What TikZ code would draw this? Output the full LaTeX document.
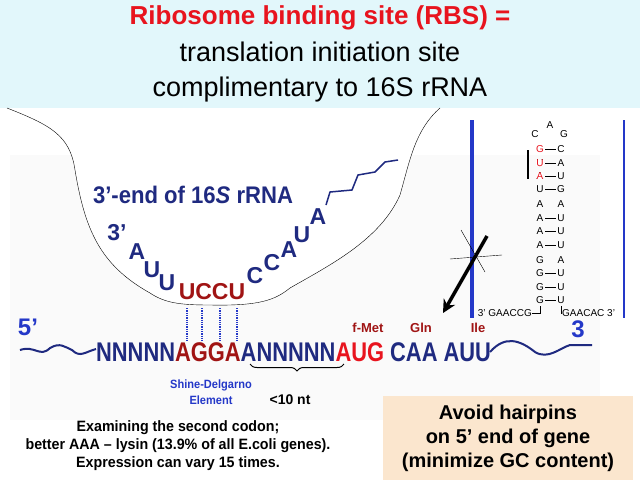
\documentclass[tikz,border=0pt]{standalone}
\usepackage{fontspec}
\setmainfont{Liberation Sans}
\usetikzlibrary{arrows.meta,decorations.pathreplacing}
\definecolor{navy}{HTML}{1F2A80}
\definecolor{rblue}{HTML}{2438C8}
\definecolor{dred}{HTML}{A01414}
\definecolor{bred}{HTML}{E8141E}
\definecolor{sky}{HTML}{E2F7FB}
\definecolor{peach}{HTML}{FBE6CE}
\tikzset{
  base/.style={font=\bfseries\fontsize{27}{27}\selectfont, inner sep=0pt},
  nt/.style={font=\bfseries\fontsize{23}{23}\selectfont, text=navy, inner sep=0pt},
  hp/.style={font=\fontsize{10}{10}\selectfont, inner sep=0pt},
  aa/.style={font=\bfseries\fontsize{13}{13}\selectfont, text=dred, inner sep=0pt},
}
\begin{document}
\begin{tikzpicture}[x=1pt,y=-1pt]
\useasboundingbox (0,0) rectangle (640,480);
\fill[sky] (0,0) rectangle (640,108);
\fill[gray!4] (10,155) rectangle (600,420);

% title
\node[font=\bfseries\fontsize{26}{26}\selectfont, text=bred] (title) at (320,18) {Ribosome binding site (RBS) =};
\node[font=\fontsize{27}{27}\selectfont] (sub1) at (320,52) {translation initiation site};
\node[font=\fontsize{27}{27}\selectfont] (sub2) at (320,90) {complimentary to 16S rRNA};

% ribosome outline
\fill[white] (7,108) .. controls (50,125) and (70,135) .. (75,170)
  .. controls (85,230) and (100,265) .. (150,293) .. controls (165,303) and (180,305) .. (210,305)
  .. controls (260,306) and (275,300) .. (290,288) .. controls (330,265) and (380,240) .. (400,195)
  .. controls (410,160) and (415,130) .. (440,108) -- cycle;
\draw (7,108) .. controls (50,125) and (70,135) .. (75,170)
  .. controls (85,230) and (100,265) .. (150,293) .. controls (165,303) and (180,305) .. (210,305)
  .. controls (260,306) and (275,300) .. (290,288) .. controls (330,265) and (380,240) .. (400,195)
  .. controls (410,160) and (415,130) .. (440,108);

% 16S rRNA
\node[font=\bfseries\fontsize{24}{24}\selectfont, text=navy, xscale=0.92] (rrna) at (193,195) {3'-end of 16\textit{S} rRNA};
\node[nt] (r3) at (117,233) {3'};
\node[nt] (rA1) at (137,252) {A};
\node[nt] (rU1) at (152,270) {U};
\node[nt] (rU2) at (167,283) {U};
\node[nt, text=dred] (ucc) at (212,292) {UCCU};
\node[nt] (rC1) at (255,276) {C};
\node[nt] (rC2) at (272,263) {C};
\node[nt] (rA2) at (289,250) {A};
\node[nt] (rU3) at (302,235) {U};
\node[nt] (rA3) at (318,217) {A};
\draw[navy, line width=1.5pt] (326,205) -- (330,192) -- (352,190) -- (358,175) -- (375,172) -- (385,162) -- (398,160);

% pairing
\foreach \x in {187,202,220,237}
  \draw[rblue, densely dotted, line width=1.3pt] (\x,308) -- (\x,341);

% mRNA
\node[font=\bfseries\fontsize{24}{24}\selectfont, text=rblue] (five) at (28,327) {5'};
\draw[navy, line width=2pt] (20,350) .. controls (35,345) and (40,358) .. (50,348) .. controls (60,342) and (65,347) .. (72,350) .. controls (80,358) and (85,352) .. (96,349);
\node[base, anchor=west, text=navy, xscale=0.81] (mrna) at (96,352)
  {NNNNN\textcolor{dred}{AGGA}ANNNNN\textcolor{bred}{AUG} CAA AUU};
\draw[navy, line width=2pt] (490,352) .. controls (505,335) and (520,340) .. (535,352) .. controls (548,360) and (560,348) .. (570,345) -- (592,345);
\node[aa] (fmet) at (368,328) {f-Met};
\node[aa] (gln) at (421,328) {Gln};
\node[aa] (ile) at (478,328) {Ile};
\coordinate (bl) at (250,364);
\coordinate (br) at (344,364);
\draw[decorate, decoration={brace, mirror, amplitude=7pt}, line width=1pt] (bl) -- (br);
\node[font=\bfseries\fontsize{12}{12}\selectfont, text=rblue, align=center, xscale=0.92] (sd) at (211,392) {Shine-Delgarno\\[4pt]Element};
\node[font=\bfseries\fontsize{14}{14}\selectfont] (lt) at (290,400) {<10 nt};

% hairpin
\draw[rblue, line width=4pt] (472,120) -- (472,318);
\draw[rblue, line width=2.5pt] (624,120) -- (624,318);
\node[hp] (lA) at (550,125) {A};
\node[hp] (lC) at (535,134) {C};
\node[hp] (lG) at (564,134) {G};
\foreach \y/\l/\r/\p in {149/G/C/1,163/U/A/1,176/A/U/1,189/U/G/1,204/A/A/0,218/A/U/1,231/A/U/1,245/A/U/1,260/G/A/0,273/G/U/1,287/G/U/1,300/G/U/1}{
  \node[hp] at (540,\y) {\l};
  \node[hp] at (561,\y) {\r};
  \ifnum\p=1 \draw (545,\y) -- (556,\y); \fi
}
\foreach \y/\l in {149/G,163/U,176/A} \node[hp, text=bred, fill=white] at (540,\y) {\l};
\draw[line width=1.3pt] (528,150) -- (528,179);
\node[hp, anchor=east] (h3) at (532,313) {3' GAACCG};
\node[hp, anchor=west] (h5) at (562,313) {GAACAC 3'};
\draw (h3.east) -- (540,313) -- (540,306);
\draw (h5.west) -- (561,313) -- (561,306);
\node[font=\bfseries\fontsize{24}{24}\selectfont, text=rblue, inner sep=0pt] (three) at (578,329) {3};
\draw (461,230) -- (485,272);
\draw (450,259) -- (502,255);
\draw[line width=3.5pt, -{Stealth[length=13pt,width=13pt]}] (487,236) -- (443,313);

% notes
\node[font=\bfseries\fontsize{15}{17}\selectfont, align=center, xscale=0.95] (note) at (178,446)
  {Examining the second codon;\\[1pt]better AAA -- lysin (13.9\% of all E.coli genes).\\[1pt]Expression can vary 15 times.};
\fill[peach] (383,396) rectangle (633,480);
\node[font=\bfseries\fontsize{20}{20}\selectfont, align=center] (avoid) at (508,438)
  {Avoid hairpins\\[4pt]on 5' end of gene\\[4pt](minimize GC content)};
\end{tikzpicture}
\end{document}
